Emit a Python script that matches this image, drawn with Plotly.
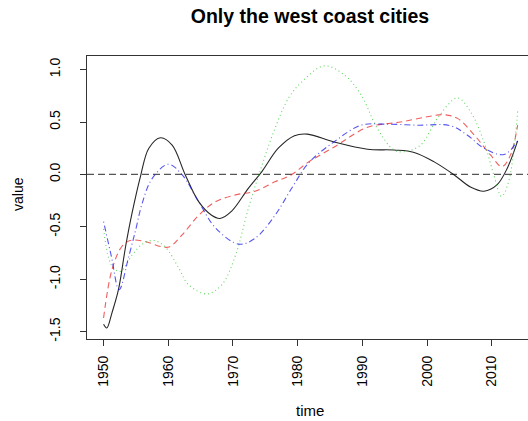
import plotly.graph_objects as go

# ---- data ----
black_x = [1950.0, 1950.5, 1951.3, 1952.3, 1953.4, 1954.4, 1955.7, 1957.0, 1958.8, 1960.6, 1962.6,
           1964.7, 1966.7, 1968.0, 1969.8, 1972.4, 1974.5, 1977.0, 1979.5, 1981.5, 1985.6, 1990.8,
           1994.9, 1998.0, 2001.1, 2004.1, 2006.7, 2008.8, 2010.8, 2012.4, 2014.0]
black_y = [-1.43, -1.465, -1.32, -1.10, -0.69, -0.37, -0.02, 0.25, 0.35, 0.28, 0.0,
           -0.26, -0.39, -0.42, -0.35, -0.13, 0.03, 0.25, 0.37, 0.385, 0.31, 0.24,
           0.233, 0.21, 0.12, 0.0, -0.12, -0.16, -0.10, 0.06, 0.32]

red_x = [1950.0, 1951.3, 1952.8, 1954.1, 1956.4, 1959.0, 1960.2, 1962.1, 1964.7, 1967.3, 1970.4,
         1973.4, 1976.5, 1979.1, 1981.7, 1985.6, 1990.8, 1995.9, 2000.0, 2002.6, 2004.7, 2007.3,
         2009.8, 2011.6, 2012.9, 2014.0]
red_y = [-1.37, -0.91, -0.69, -0.63, -0.64, -0.69, -0.69, -0.58, -0.39, -0.26, -0.195,
         -0.16, -0.07, 0.0, 0.12, 0.26, 0.45, 0.50, 0.55, 0.57, 0.535, 0.376,
         0.186, 0.074, 0.186, 0.47]

green_x = [1950.0, 1950.8, 1951.5, 1952.6, 1954.4, 1955.9, 1957.7, 1959.5, 1961.6, 1963.1, 1966.0,
           1968.3, 1970.4, 1972.4, 1974.5, 1976.5, 1978.6, 1980.6, 1984.1, 1987.2, 1989.8, 1992.3,
           1994.9, 1996.4, 1999.0, 2001.6, 2004.7, 2006.7, 2008.8, 2010.3, 2011.5, 2012.6, 2014.0]
green_y = [-0.52, -0.80, -0.89, -0.925, -0.77, -0.67, -0.63, -0.69, -0.89, -1.05, -1.14,
           -1.05, -0.77, -0.32, 0.09, 0.44, 0.73, 0.88, 1.036, 0.95, 0.76, 0.44,
           0.233, 0.217, 0.28, 0.535, 0.73, 0.60, 0.31, 0.0, -0.21, -0.07, 0.60]

blue_x = [1950.0, 1951.2, 1952.4, 1953.9, 1955.0, 1955.9, 1957.5, 1960.0, 1962.1, 1964.7, 1967.3,
          1970.9, 1973.4, 1976.5, 1979.1, 1981.7, 1985.6, 1989.8, 1993.4, 1998.5, 2003.6, 2006.2,
          2008.8, 2011.9, 2014.0]
blue_y = [-0.45, -0.78, -1.10, -0.78, -0.52, -0.29, -0.04, 0.097, 0.0, -0.26, -0.51,
          -0.665, -0.61, -0.39, -0.13, 0.11, 0.31, 0.47, 0.48, 0.47, 0.465, 0.376,
          0.25, 0.19, 0.32]

x_ticks = [1950, 1960, 1970, 1980, 1990, 2000, 2010]
y_ticks = [-1.5, -1.0, -0.5, 0.0, 0.5, 1.0]

FONT = "Liberation Sans, Arial, Helvetica, sans-serif"

fig = go.Figure()

series = [
    (black_x, black_y, "rgba(0,0,0,0.85)", "solid"),
    (red_x, red_y, "rgba(235,40,40,0.75)", "6px,4px"),
    (green_x, green_y, "rgba(40,200,40,0.75)", "1px,3px"),
    (blue_x, blue_y, "rgba(30,30,235,0.75)", "1px,3px,6px,3px"),
]
for xs, ys, col, dash in series:
    fig.add_trace(go.Scatter(x=xs, y=ys, mode="lines",
                             line=dict(color=col, width=1.1, dash=dash, shape="spline", smoothing=1.0),
                             showlegend=False, hoverinfo="skip"))

fig.add_shape(type="line", xref="paper", yref="y", x0=0, x1=1, y0=0, y1=0,
              line=dict(color="#555555", width=1.3, dash="7px,4px"), layer="below")

fig.update_layout(
    width=528, height=421,
    margin=dict(l=87, r=0, t=56, b=82),
    paper_bgcolor="white", plot_bgcolor="white",
    font=dict(family=FONT, color="black", size=14),
    showlegend=False,
    title=dict(text="<b>Only the west coast cities</b>", x=310 / 528, xref="container", xanchor="center",
               y=1 - 16 / 421, yref="container", yanchor="middle",
               font=dict(family=FONT, size=19.5, color="black")),
    xaxis=dict(range=[1947.44, 2015.6], tickvals=x_ticks, ticktext=[str(v) for v in x_ticks],
               tickangle=-90, ticks="outside", ticklen=6, tickcolor="#333333", tickwidth=1,
               showline=True, linecolor="#333333", linewidth=1, mirror=True,
               showgrid=False, zeroline=False, ticklabelstandoff=4,
               tickfont=dict(family=FONT, size=14, color="black")),
    yaxis=dict(range=[-1.57, 1.13], tickvals=y_ticks, ticktext=["%.1f" % v for v in y_ticks],
               tickangle=-90, ticks="outside", ticklen=6, tickcolor="#333333", tickwidth=1,
               showline=True, linecolor="#333333", linewidth=1, mirror=False,
               showgrid=False, zeroline=False, ticklabelstandoff=14,
               tickfont=dict(family=FONT, size=14, color="black")),
    annotations=[
        dict(text="time", xref="paper", yref="paper", x=(310 - 87) / 441, y=-(410 - 339) / 283,
             xanchor="center", yanchor="middle", showarrow=False,
             font=dict(family=FONT, size=15, color="black")),
        dict(text="value", xref="paper", yref="paper", x=-(87 - 18) / 441, y=(339 - 194) / 283,
             xanchor="center", yanchor="middle", textangle=-90, showarrow=False,
             font=dict(family=FONT, size=14, color="black")),
    ],
)

fig.write_html("out.html", config={"displayModeBar": False, "staticPlot": True},
               post_script="document.body.style.margin='0';document.body.style.overflow='hidden';")
